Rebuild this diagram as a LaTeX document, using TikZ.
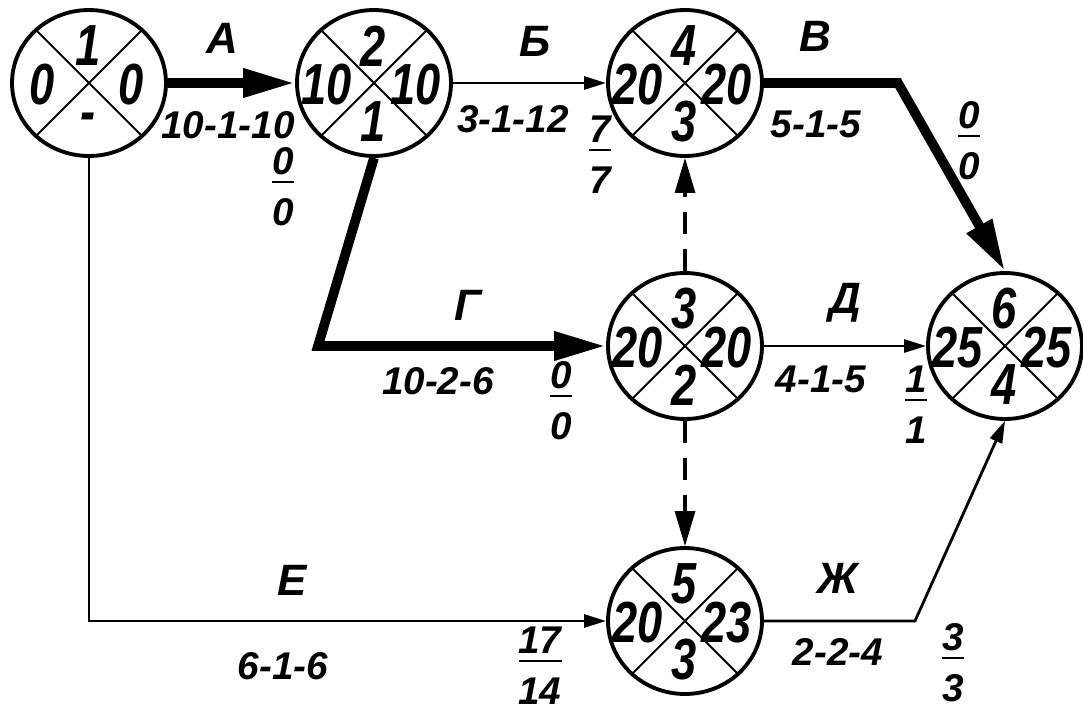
\documentclass[tikz,border=0pt]{standalone}
\usepackage{fontspec}
\setmainfont{Liberation Sans}
\usetikzlibrary{arrows.meta,calc,shapes.geometric}
\setlength{\arrayrulewidth}{1.1pt}

\newcommand{\labfont}{\fontsize{22}{26}\selectfont\bfseries\itshape}
\newcommand{\namefont}{\fontsize{25}{29}\selectfont\bfseries\itshape}
\newcommand{\numfont}{\fontsize{33}{38}\selectfont\bfseries\itshape}
\newcommand{\frc}[2]{\begin{tabular}{@{}c@{}}#1\\[-4pt]\hline\noalign{\vskip6pt}#2\end{tabular}}
% event circle: name, position, number, early, late, predecessor
\newcommand{\eventnode}[6]{%
  \node[event] (#1) at (#2) {};
  \draw[cross] (#1.45) -- (#1.225) (#1.135) -- (#1.315);
  \node[num] (#1t) at ($(#1)+(-1,-37)$) {\scalebox{0.78}[1]{#3}};
  \node[num] (#1l) at ($(#1)+(-47,2)$) {\scalebox{0.78}[1]{#4}};
  \node[num] (#1r) at ($(#1)+(42,2)$) {\scalebox{0.78}[1]{#5}};
  \node[num] (#1b) at ($(#1)+(-1,39)$) {\scalebox{0.78}[1]{#6}};
}

\begin{document}
\begin{tikzpicture}[x=0.02cm, y=-0.02cm,
  event/.style={draw, ellipse, line width=2.2pt, minimum width=3.08cm,
                minimum height=2.92cm, inner sep=0pt},
  cross/.style={line width=1.1pt},
  num/.style={font=\numfont, inner sep=0pt},
  lab/.style={font=\labfont, inner sep=0pt, align=center},
  wname/.style={font=\namefont, inner sep=0pt},
  arc/.style={line width=1.6pt, -{Triangle[length=0.44cm, width=0.26cm]}},
  crit/.style={line width=5.5pt, -{Triangle[length=1.04cm, width=0.54cm]}},
  dummy/.style={line width=1.8pt, dash pattern=on 0.44cm off 0.3cm,
                -{Triangle[length=0.7cm, width=0.4cm]}},
]
\useasboundingbox (0,0) rectangle (1083,714);

% events
\eventnode{n1}{89,83}{1}{0}{0}{-}
\eventnode{n2}{374,83}{2}{10}{10}{1}
\eventnode{n4}{685,83}{4}{20}{20}{3}
\eventnode{n3}{685,346}{3}{20}{20}{2}
\eventnode{n5}{685,621}{5}{20}{23}{3}
\eventnode{n6}{1005,346}{6}{25}{25}{4}

% bends
\coordinate (bendV) at (898,83);
\coordinate (bendG) at (318,346);
\coordinate (bendZ) at (915,621);

% works
\draw[crit] (n1) -- (n2);
\draw[arc] (n2) -- (n4);
\draw[crit] (n4.east) -- (bendV) -- (n6.north);
\draw[crit] (n2.south) -- (bendG) -- (n3);
\draw[arc] (n3) -- (n6);
\draw[arc] (n1.south) |- (n5);
\draw[arc] (n5.east) -- (bendZ) -- (n6.south);
\draw[dummy] (n3) -- (n4);
\draw[dummy] (n3) -- (n5);

% work names
\node[wname] (wA) at (222,38) {А};
\node[wname] (wB) at (535,41) {Б};
\node[wname] (wV) at (815,36) {В};
\node[wname] (wG) at (468,305) {Г};
\node[wname] (wD) at (845,303) {Д};
\node[wname] (wE) at (292,580) {Е};
\node[wname] (wZ) at (838,578) {Ж};

% durations
\node[lab] (tA) at (228,125) {10-1-10};
\node[lab] (tB) at (513,119) {3-1-12};
\node[lab] (tV) at (816,124) {5-1-5};
\node[lab] (tG) at (438,381) {10-2-6};
\node[lab] (tD) at (821,379) {4-1-5};
\node[lab] (tE) at (283,666) {6-1-6};
\node[lab] (tZ) at (838,652) {2-2-4};

% reserves
\node[lab] (rA) at (283,191) {\frc{0}{0}};
\node[lab] (rB) at (600,159) {\frc{7}{7}};
\node[lab] (rV) at (969,145) {\frc{0}{0}};
\node[lab] (rG) at (561,405) {\frc{0}{0}};
\node[lab] (rD) at (916,409) {\frc{1}{1}};
\node[lab] (rE) at (540,670) {\frc{17}{14}};
\node[lab] (rZ) at (953,667) {\frc{3}{3}};
\end{tikzpicture}
\end{document}
